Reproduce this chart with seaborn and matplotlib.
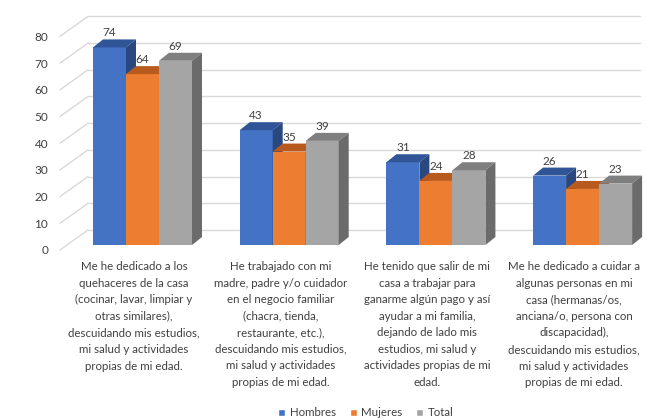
import numpy as np
import pandas as pd
import matplotlib
matplotlib.use('Agg')
import matplotlib.pyplot as plt
import matplotlib.transforms as mtrans
from matplotlib.patches import Polygon, Patch
import seaborn as sns

# datos
categorias = [
    "Me he dedicado a los\nquehaceres de la casa\n(cocinar, lavar, limpiar y\notras similares),\ndescuidando mis estudios,\nmi salud y actividades\npropias de mi edad.",
    "He trabajado con mi\nmadre, padre y/o cuidador\nen el negocio familiar\n(chacra, tienda,\nrestaurante, etc.),\ndescuidando mis estudios,\nmi salud y actividades\npropias de mi edad.",
    "He tenido que salir de mi\ncasa a trabajar para\nganarme algún pago y así\nayudar a mi familia,\ndejando de lado mis\nestudios, mi salud y\nactividades propias de mi\nedad.",
    "Me he dedicado a cuidar a\nalgunas personas en mi\ncasa (hermanas/os,\nanciana/o, persona con\ndiscapacidad),\ndescuidando mis estudios,\nmi salud y actividades\npropias de mi edad.",
]
series = ['Hombres', 'Mujeres', 'Total']
hombres = [74, 43, 31, 26]
mujeres = [64, 35, 24, 21]
total = [69, 39, 28, 23]
yticks = [0, 10, 20, 30, 40, 50, 60, 70, 80]

front_colors = ['#4472C4', '#ED7D31', '#A5A5A5']
top_colors = ['#2F5597', '#B85A1E', '#7F7F7F']
side_colors = ['#28487F', '#A04E18', '#6B6B6B']
txt_color = '#404040'

df = pd.DataFrame({
    'cat': list(range(4)) * 3,
    'valor': hombres + mujeres + total,
    'serie': [s for s in series for _ in range(4)],
})

sns.set_style('white')
plt.rcParams['font.family'] = ['Lato', 'DejaVu Sans']

W, H = 646, 418
fig = plt.figure(figsize=(W / 100, H / 100), dpi=100)
ax = fig.add_axes([60 / W, 173 / H, 580 / W, 213.6 / H])

sns.barplot(data=df, x='cat', y='valor', hue='serie', palette=front_colors,
            width=0.675, gap=0, saturation=1, errorbar=None, legend=False, ax=ax)

xpx = 146.7   # px per category
ypx = 2.67    # px per unit
x0 = (60 - 142.5) / xpx
x1 = (640 - 142.5) / xpx
ax.set_xlim(x0, x1)
ax.set_ylim(0, 80)
for s in ax.spines.values():
    s.set_visible(False)

# 3D faces
dx = 10 / xpx
dy = 8 / ypx
for k, cont in enumerate(ax.containers):
    for p in cont.patches:
        p.set_zorder(3 + 0.2 * k)
        p.set_linewidth(0)
        xl, w, h = p.get_x(), p.get_width(), p.get_height()
        top = Polygon([(xl, h), (xl + dx, h + dy), (xl + w + dx, h + dy), (xl + w, h)],
                      closed=True, facecolor=top_colors[k], lw=0, zorder=3.1 + 0.2 * k, clip_on=False)
        side = Polygon([(xl + w, 0), (xl + w, h), (xl + w + dx, h + dy), (xl + w + dx, dy)],
                       closed=True, facecolor=side_colors[k], lw=0, zorder=3.1 + 0.2 * k, clip_on=False)
        ax.add_patch(top)
        ax.add_patch(side)
    labs = ax.bar_label(cont, padding=6.5, fontsize=8.5, color=txt_color)
    for t in labs:
        t.set_zorder(2.9)
        t.set_clip_on(False)

# gridlines (pared del fondo + diagonal)
back = 15 / ypx
front = 5 / ypx
xb = (88 - 142.5) / xpx
for v in yticks:
    ax.plot([xb, x1], [v + back, v + back], color='#d9d9d9', lw=1, zorder=1, clip_on=False)
    ax.plot([x0, xb], [v - front, v + back], color='#d9d9d9', lw=1, zorder=1, clip_on=False)

ax.set_yticks(yticks)
ax.set_yticklabels([str(v) for v in yticks], fontsize=8.5, color=txt_color)
ax.tick_params(axis='y', length=0, pad=8.6)
for t in ax.get_yticklabels():
    t.set_transform(t.get_transform() + mtrans.ScaledTranslation(0, -5 / 100, fig.dpi_scale_trans))

ax.set_xticks(range(4))
ax.set_xticklabels(categorias, fontsize=8.3, color=txt_color, linespacing=1.62)
ax.tick_params(axis='x', length=0, pad=11.5)
for t in ax.get_xticklabels():
    t.set_transform(t.get_transform() + mtrans.ScaledTranslation(-8.5 / 100, 0, fig.dpi_scale_trans))
ax.set_xlabel('')
ax.set_ylabel('')

handles = [Patch(facecolor=c, label=s) for c, s in zip(front_colors, series)]
fig.legend(handles=handles, loc='lower center', bbox_to_anchor=(366 / W, -0.026), ncol=3,
           frameon=False, handlelength=0.6, handleheight=0.6, handletextpad=0.4,
           columnspacing=1.2, fontsize=8.3, labelcolor=txt_color)

fig.savefig('out.png', dpi=100)
